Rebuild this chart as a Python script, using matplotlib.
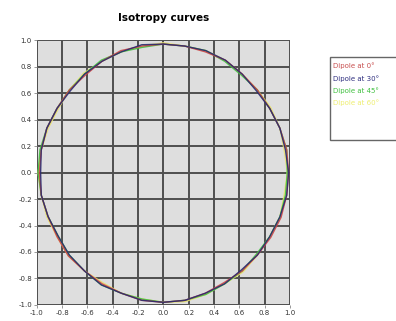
import numpy as np
import matplotlib.pyplot as plt
from matplotlib.patches import Rectangle

# angles (deg) and measured radius of each dipole pattern
angles = list(range(0, 361, 10))
r_dip0 = [0.99, 0.99, 0.98, 0.97, 0.97, 0.97, 0.98, 0.97, 0.97, 0.97,
          0.97, 0.98, 0.97, 0.96, 0.97, 0.97, 0.98, 0.98, 0.98,
          0.98, 0.97, 0.97, 0.98, 0.97, 0.97, 0.97, 0.98, 0.98,
          0.98, 0.97, 0.96, 0.97, 0.97, 0.98, 0.99, 0.99, 0.99]
r_dip30 = [0.99, 0.98, 0.98, 0.97, 0.96, 0.97, 0.98, 0.98, 0.97, 0.97,
           0.98, 0.97, 0.97, 0.97, 0.96, 0.97, 0.98, 0.98, 0.97,
           0.98, 0.97, 0.96, 0.97, 0.97, 0.98, 0.97, 0.98, 0.98,
           0.98, 0.97, 0.97, 0.96, 0.97, 0.97, 0.98, 0.99, 0.99]
r_dip45 = [0.98, 0.99, 0.98, 0.97, 0.97, 0.96, 0.97, 0.98, 0.97, 0.97,
           0.96, 0.97, 0.98, 0.97, 0.97, 0.97, 0.98, 0.99, 0.99,
           0.98, 0.97, 0.96, 0.97, 0.97, 0.98, 0.97, 0.97, 0.98,
           0.98, 0.98, 0.97, 0.97, 0.96, 0.97, 0.98, 0.98, 0.98]
r_dip60 = [0.98, 0.97, 0.98, 0.98, 0.97, 0.97, 0.98, 0.98, 0.97, 0.98,
           0.97, 0.97, 0.97, 0.98, 0.97, 0.96, 0.97, 0.98, 0.99,
           0.98, 0.98, 0.97, 0.98, 0.97, 0.96, 0.97, 0.97, 0.98,
           0.99, 0.98, 0.97, 0.98, 0.97, 0.97, 0.98, 0.97, 0.98]
labels = ['Dipole at 0°', 'Dipole at 30°', 'Dipole at 45°', 'Dipole at 60°']
colors = ['#cc4444', '#2a2a70', '#40c040', '#e8e070']
text_colors = ['#c85050', '#303080', '#40c040', '#eeee70']
ticks = [-1.0, -0.8, -0.6, -0.4, -0.2, 0.0, 0.2, 0.4, 0.6, 0.8, 1.0]

fig = plt.figure(figsize=(3.96, 3.21), dpi=100)
ax = fig.add_axes([0.093, 0.05, 0.639, 0.825])
ax.set_facecolor('#dedede')

th = np.radians(angles)
series = [r_dip0, r_dip30, r_dip45, r_dip60]
for i in [3, 2, 0, 1]:
    r = np.array(series[i])
    ax.plot(r * np.cos(th), r * np.sin(th), color=colors[i], lw=1.0, alpha=0.9)

ax.set_xlim(-1, 1)
ax.set_ylim(-1, 1)
ax.set_xticks(ticks)
ax.set_yticks(ticks)
ax.set_xticklabels(['%.1f' % t for t in ticks])
ax.set_yticklabels(['%.1f' % t for t in ticks])
ax.tick_params(labelsize=5, length=2, width=0.6, color='#888888', labelcolor='#333333', pad=1.5)
ax.grid(True, color='#4f4f4f', lw=1.4)
ax.set_axisbelow(True)
for s in ax.spines.values():
    s.set_visible(False)
ax.set_title('Isotropy curves', fontsize=7.5, fontweight='bold', pad=14)

# legend box running off the right edge, coloured text entries
fig.patches.append(Rectangle((0.833, 0.564), 0.2, 0.258, transform=fig.transFigure,
                             facecolor='white', edgecolor='#666666', lw=1.0))
for k, (lab, c) in enumerate(zip(labels, text_colors)):
    fig.text(0.841, 0.794 - k * 0.0375, lab, color=c, fontsize=5, va='center')

fig.savefig('out.png', dpi=100)
